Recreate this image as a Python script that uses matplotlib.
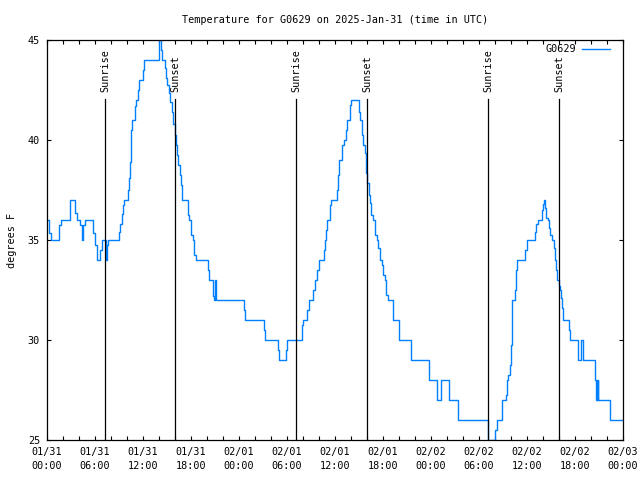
import matplotlib
matplotlib.use("Agg")
import matplotlib.pyplot as plt
import matplotlib.dates as mdates
from datetime import datetime, timedelta

# ---- data (hours since 2025-01-31 00:00 UTC, temperature in F) ----
hours = [0.125, 0.25, 0.46, 1.42, 1.54, 1.71, 2.71, 2.83, 3.42, 3.54, 3.71, 4.04, 4.17, 4.33, 4.42,
         4.54, 4.71, 5.54, 5.79, 6.0, 6.2, 6.54, 6.67, 6.875, 7.17, 7.375, 7.54, 7.67, 8.83,
         9.0, 9.17, 9.33, 9.5, 9.58, 10.0, 10.125, 10.25, 10.375, 10.46, 10.54, 10.625, 10.92,
         11.0, 11.125, 11.25, 11.375, 11.54, 11.83, 11.96, 12.08, 12.17, 13.92, 14.0, 14.125,
         14.2, 14.4, 14.65, 14.75, 14.9, 15.05, 15.2, 15.4, 15.6, 15.78, 15.98, 16.1, 16.26,
         16.42, 16.58, 16.75, 16.875, 17.4, 17.6, 17.8, 18.0, 18.2, 18.4, 18.6, 19.96, 20.1,
         20.2, 20.6, 20.7, 20.8, 20.9, 21.0, 21.07, 24.5, 24.65, 24.8, 27.05, 27.15, 27.3,
         28.8, 28.9, 29.04, 29.8, 29.92, 30.04, 31.75, 31.83, 32.04, 32.375, 32.54, 32.75,
         33.17, 33.29, 33.5, 33.71, 34.04, 34.46, 34.625, 34.75, 34.875, 35.04, 35.375, 35.5,
         36.08, 36.2, 36.33, 36.54, 36.92, 37.125, 37.29, 37.375, 37.54, 37.875, 38.0, 38.75,
         38.96, 39.125, 39.375, 39.54, 39.7, 39.875, 40.04, 40.2, 40.37, 40.54, 40.7, 41.0,
         41.2, 41.42, 41.625, 41.83, 42.04, 42.25, 42.375, 42.58, 43.08, 43.2, 43.92, 44.04,
         45.375, 45.5, 47.54, 47.75, 48.625, 48.8, 49.04, 49.25, 50.04, 50.25, 51.125, 51.33,
         54.96, 55.08, 55.8, 56.0, 56.2, 56.75, 56.92, 57.17, 57.33, 57.5, 57.67, 57.83, 58.0,
         58.08, 58.17, 58.42, 58.5, 58.67, 58.79, 59.67, 59.79, 59.96, 60.92, 61.04, 61.17,
         61.33, 61.75, 61.875, 62.0, 62.08, 62.125, 62.25, 62.42, 62.58, 62.7, 62.92, 63.17,
         63.33, 63.5, 63.67, 63.79, 64.0, 64.17, 64.25, 64.42, 64.54, 65.08, 65.25, 65.375,
         66.25, 66.35, 66.7, 66.8, 66.95, 67.05, 68.33, 68.45, 68.55, 68.62, 68.7, 68.78,
         68.85, 68.92, 70.3, 70.42, 71.9]
temps = [36.0, 35.33, 35.0, 35.0, 35.75, 36.0, 36.0, 37.0, 37.0, 36.33, 36.0, 36.0, 35.75, 35.33, 35.0,
         35.75, 36.0, 36.0, 35.33, 34.75, 34.0, 34.0, 34.5, 35.0, 35.0, 34.0, 34.75, 35.0, 35.0,
         35.4, 35.8, 36.3, 36.75, 37.0, 37.0, 37.5, 38.1, 38.9, 39.6, 40.5, 41.0, 41.0,
         41.7, 42.0, 42.0, 42.5, 43.0, 43.0, 43.5, 43.8, 44.0, 44.0, 45.0, 45.0,
         44.5, 44.0, 44.0, 43.6, 43.1, 42.75, 42.33, 41.9, 41.4, 40.8, 40.25, 39.75, 39.25,
         38.75, 38.25, 37.75, 37.0, 37.0, 36.25, 36.0, 35.25, 35.0, 34.25, 34.0, 34.0, 33.5,
         33.0, 33.0, 32.7, 32.2, 32.0, 33.0, 32.0, 32.0, 31.5, 31.0, 31.0, 30.5, 30.0,
         30.0, 29.5, 29.0, 29.0, 29.5, 30.0, 30.0, 30.75, 31.0, 31.0, 31.5, 32.0,
         32.0, 32.5, 33.0, 33.5, 34.0, 34.0, 34.5, 35.0, 35.5, 36.0, 36.75, 37.0,
         37.0, 37.5, 38.25, 39.0, 39.75, 40.0, 40.0, 40.5, 41.0, 41.75, 42.0, 42.0,
         41.4, 41.0, 40.25, 39.75, 39.33, 38.33, 37.83, 37.25, 36.83, 36.25, 36.0, 35.25,
         35.0, 34.6, 34.0, 33.75, 33.25, 33.0, 32.25, 32.0, 32.0, 31.0, 31.0, 30.0,
         30.0, 29.0, 29.0, 28.0, 28.0, 27.0, 27.0, 28.0, 28.0, 27.0, 27.0, 26.0,
         26.0, 25.0, 25.0, 25.5, 26.0, 26.0, 27.0, 27.0, 27.25, 28.0, 28.25, 28.75, 29.75,
         31.25, 32.0, 32.0, 32.5, 33.5, 34.0, 34.0, 34.5, 35.0, 35.0, 35.4, 35.8,
         36.0, 36.0, 36.5, 36.8, 37.0, 37.0, 36.6, 36.1, 36.0, 35.6, 35.25, 35.0,
         34.6, 34.0, 33.5, 33.0, 32.7, 32.5, 32.1, 31.6, 31.0, 31.0, 30.5, 30.0,
         30.0, 29.0, 29.0, 30.0, 30.0, 29.0, 29.0, 28.0, 28.0, 27.0, 28.0, 27.0,
         28.0, 27.0, 27.0, 26.0, 26.0]

sunrise_hours = [7.27, 31.15, 55.17]
sunset_hours = [16.03, 40.06, 64.05]
series_name = "G0629"
title = "Temperature for G0629 on 2025-Jan-31 (time in UTC)"
ylabel = "degrees F"
y_ticks = [25, 30, 35, 40, 45]

base = datetime(2025, 1, 31)
to_dt = lambda h: base + timedelta(hours=h)
times = [to_dt(h) for h in hours]

mono = "DejaVu Sans Mono"
fs = 7.3
plt.rcParams["font.family"] = mono

fig = plt.figure(figsize=(6.4, 4.8), dpi=100)
ax = fig.add_axes([47 / 640, 40 / 480, 576 / 640, 400 / 480])

ax.plot(times, temps, color="#0080ff", lw=1.0, drawstyle="steps-post")

for h in sunrise_hours:
    ax.axvline(to_dt(h), ymin=0, ymax=0.8525, color="black", lw=0.9)
    ax.text(to_dt(h), 0.87, "Sunrise", rotation=90, ha="center", va="bottom",
            transform=ax.get_xaxis_transform(), fontsize=fs)
for h in sunset_hours:
    ax.axvline(to_dt(h), ymin=0, ymax=0.8525, color="black", lw=0.9)
    ax.text(to_dt(h), 0.87, "Sunset", rotation=90, ha="center", va="bottom",
            transform=ax.get_xaxis_transform(), fontsize=fs)

ax.set_xlim(base, to_dt(72))
ax.set_ylim(25, 45)
ax.set_yticks(y_ticks)
ax.xaxis.set_major_locator(mdates.HourLocator(byhour=range(0, 24, 6)))
ax.xaxis.set_minor_locator(mdates.HourLocator(byhour=range(0, 24, 2)))
ax.xaxis.set_major_formatter(mdates.DateFormatter("%m/%d\n%H:%M"))
ax.tick_params(which="both", direction="in", length=3.2, width=0.8,
               top=True, right=True, labelsize=fs, pad=5)
for s in ax.spines.values():
    s.set_linewidth(0.9)

ax.set_title(title, fontsize=fs, pad=12)
ax.set_ylabel(ylabel, fontsize=fs, labelpad=8)

# legend (gnuplot style, top right)
ax.text(0.918, 0.977, series_name, transform=ax.transAxes, ha="right", va="center", fontsize=fs)
ax.plot([0.929, 0.977], [0.977, 0.977], transform=ax.transAxes, color="#0080ff", lw=1.0)

for lbl in ax.get_xticklabels():
    lbl.set_linespacing(1.45)

fig.savefig("out.png", dpi=100)
